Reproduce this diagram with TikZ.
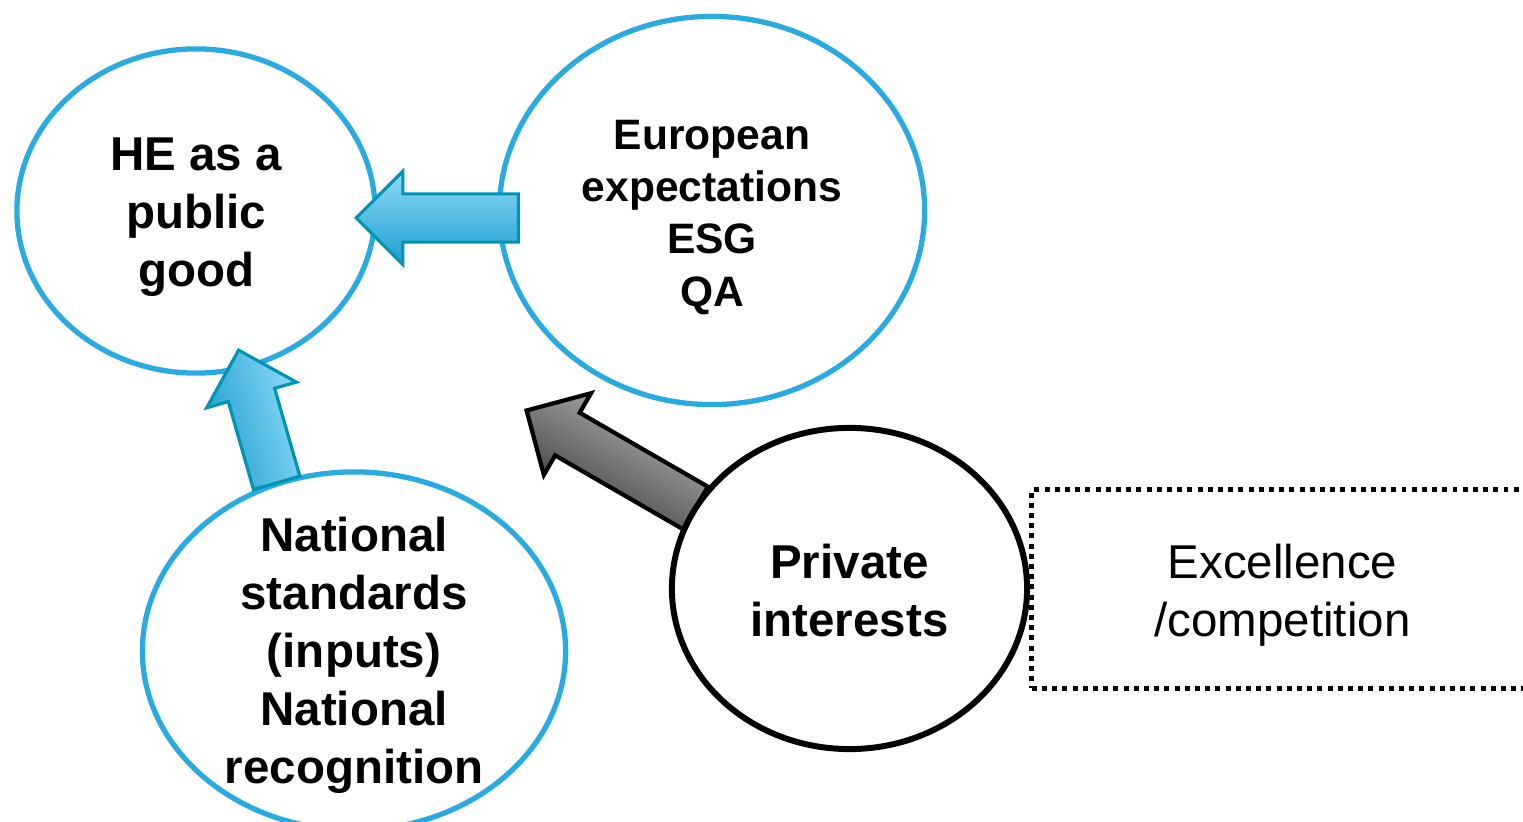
\documentclass[tikz,border=0pt]{standalone}
\usepackage{fontspec}
\setmainfont{Liberation Sans}
\usetikzlibrary{shapes.geometric, shapes.arrows}

\definecolor{azulbolha}{RGB}{41,171,226}
\definecolor{azulclaro}{RGB}{140,218,247}
\definecolor{azulescuro}{RGB}{30,158,208}
\definecolor{azulborda}{RGB}{0,147,178}

\tikzset{
  bolha/.style={ellipse, draw=azulbolha, line width=1.5pt, align=center, inner sep=0pt,
    font=\bfseries\fontsize{13.5pt}{16.5pt}\selectfont},
  seta/.style={single arrow, anchor=tip, inner xsep=0pt, inner ysep=0.225cm, single arrow head extend=0.225cm,
    draw=azulborda, line width=0.9pt, top color=azulclaro, bottom color=azulescuro},
}

\begin{document}
\begin{tikzpicture}[x=0.01cm, y=-0.01cm]

% Area visivel
\clip (0,0) rectangle (1523,822);

% Seta cinza (por baixo da bolha)
\node[seta, rotate=150, minimum height=1.95cm, draw=black, line width=1.2pt,
  top color=black!28, bottom color=black!78, shading angle=-30] (setaPriv) at (524,409) {};

% Bolhas
\node[bolha, minimum width=3.58cm, minimum height=3.24cm] (bem) at (196,211)
  {\rule{0pt}{12.7pt}HE as a\\public\\good};
\node[bolha, minimum width=4.25cm, minimum height=3.88cm, font=\bfseries\fontsize{12.1pt}{14.9pt}\selectfont]
  (euro) at (712,210.5) {\rule{0pt}{12.2pt}European\\expectations\\ESG\\QA};
\node[bolha, inner ysep=-0.4cm, minimum width=4.23cm, minimum height=3.58cm] (nac) at (354,651)
  {\rule{0pt}{12.1pt}National\\standards\\(inputs)\\National\\recognition};
\node[bolha, draw=black, line width=1.7pt, minimum width=3.55cm, minimum height=3.21cm]
  (priv) at (849.5,588.5) {\rule{0pt}{11pt}Private\\interests};

% Caixa pontilhada
\node[draw, line width=1.4pt, dash pattern=on 1.4pt off 1.5pt, align=center,
  minimum width=5.01cm, minimum height=1.98cm, font=\fontsize{13.5pt}{16.5pt}\selectfont]
  (exc) at (1282.5,589) {\rule{0pt}{13.3pt}Excellence\\/competition};

% Setas azuis
\node[seta, rotate=180, minimum height=1.62cm] (setaEuro) at (354,218) {};
\node[seta, rotate=106, minimum height=1.38cm, shading angle=-74] (setaNac) at (238,348) {};

\end{tikzpicture}
\end{document}
